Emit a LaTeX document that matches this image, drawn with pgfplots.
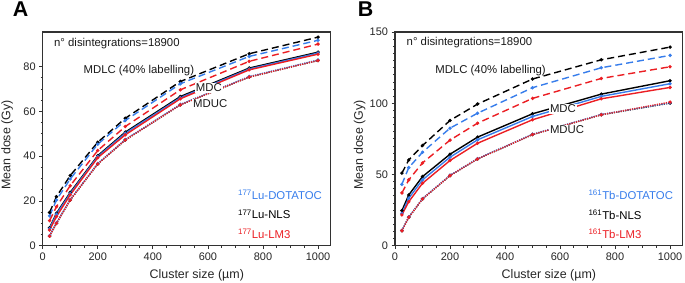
\documentclass[border=0pt]{standalone}
\usepackage{fontspec}
\setmainfont{Liberation Sans}
\usepackage{pgfplots}
\pgfplotsset{compat=1.18}
\definecolor{cblue}{RGB}{55,125,235}
\definecolor{cred}{RGB}{235,30,35}
\definecolor{cblack}{RGB}{0,0,0}
\definecolor{frame}{RGB}{50,50,50}
\tikzset{
  dsh/.style={dash pattern=on 7bp off 4bp},
  dtt/.style={dash pattern=on 1.2bp off 1.1bp},
  lab/.style={font=\fontsize{11.4}{13}\selectfont, text=black!90, inner sep=0.8bp},
  plab/.style={anchor=west, inner sep=0pt, font=\fontsize{21.5}{22}\selectfont\bfseries},
}
\pgfplotsset{
  panel/.style={
    scale only axis, width=288bp, height=213.7bp,
    xmin=0, xmax=1046, ymin=0,
    xtick={0,200,...,1000}, minor x tick num=3,
    xtick pos=lower, ytick pos=left, tick align=outside,
    major tick length=3.5bp, minor tick length=2bp,
    axis line style={frame, line width=1.1bp},
    every tick/.style={frame, line width=0.7bp},
    /pgf/number format/assume math mode=true,
    /pgf/number format/1000 sep={},
    ticklabel style={font=\fontsize{11}{13}\selectfont, text=black!85},
    xlabel={Cluster size (µm)}, ylabel={Mean dose (Gy)},
    label style={font=\fontsize{12.5}{14}\selectfont, text=black!85},
    xlabel style={at={(axis description cs:0.535,0)}, anchor=center, yshift=-29.3bp},
    ylabel style={at={(axis description cs:-0.123,0.472)}, anchor=center},
    clip=false,
    every axis plot/.append style={line width=1.4bp, mark size=0.9bp, mark options={solid}},
  },
}
\begin{document}
\begin{tikzpicture}
\useasboundingbox (0,0) rectangle (685bp,283bp);
\node[plab] at (12.7bp,273.5bp) {A};
\node[plab] at (357.7bp,273.5bp) {B};
% ---------------- Panel A
\begin{axis}[panel, at={(42.7bp,37.3bp)}, anchor=south west,
  ymax=95.4, ytick={0,20,...,80}, minor y tick num=3]
% MDLC dashed
\addplot[cblack, dsh, mark=*] coordinates {(25,14.8)(50,21.9)(100,31.3)(200,46.2)(300,56.9)(500,73.3)(750,85.7)(1000,93.1)};
\addplot[cblue, dsh, mark=*] coordinates {(25,13.3)(50,20.4)(100,29.8)(200,45.3)(300,55.9)(500,72.3)(750,84.5)(1000,91.7)};
\addplot[cred, dsh, mark=*] coordinates {(25,11.2)(50,17.4)(100,26.8)(200,42.5)(300,53.2)(500,69.6)(750,82.3)(1000,90.0)};
% MDC solid
\addplot[cblack, mark=*] coordinates {(25,8.0)(50,14.5)(100,23.8)(200,40.2)(300,50.7)(500,66.6)(750,79.3)(1000,86.4)};
\addplot[cblue, mark=*] coordinates {(25,7.6)(50,14.0)(100,23.3)(200,39.8)(300,50.2)(500,66.1)(750,78.9)(1000,86.0)};
\addplot[cred, mark=*] coordinates {(25,7.0)(50,13.0)(100,22.7)(200,39.3)(300,49.5)(500,65.6)(750,78.5)(1000,85.5)};
% MDUC dotted
\addplot[cblack, dtt, mark=*] coordinates {(25,4.3)(50,10.0)(100,20.4)(200,36.5)(300,47.2)(500,62.9)(750,75.3)(1000,82.7)};
\addplot[cblue, dtt, mark=*] coordinates {(25,4.5)(50,10.2)(100,20.6)(200,36.7)(300,47.4)(500,63.1)(750,75.5)(1000,82.9)};
\addplot[cred, dtt, mark=*] coordinates {(25,4.3)(50,10.0)(100,20.4)(200,36.5)(300,47.2)(500,62.9)(750,75.3)(1000,82.7)};
\node[lab, anchor=west] at (axis cs:38,90.4) {n° disintegrations=18900};
\node[lab, anchor=west] at (axis cs:145,78) {MDLC (40\% labelling)};
\node[lab, anchor=west, fill=white] at (axis cs:553,70.5) {MDC};
\node[lab, anchor=west, fill=white] at (axis cs:543,63.3) {MDUC};
\node[lab, anchor=west, text=cblue] at (axis cs:706,22.6) {\textsuperscript{177}Lu-DOTATOC};
\node[lab, anchor=west, text=black] at (axis cs:706,14.0) {\textsuperscript{177}Lu-NLS};
\node[lab, anchor=west, text=cred] at (axis cs:706,5.5) {\textsuperscript{177}Lu-LM3};
\end{axis}
% ---------------- Panel B
\begin{axis}[panel, at={(395bp,37.3bp)}, anchor=south west, width=287.7bp,
  ymax=150, ytick={0,50,100,150}, minor y tick num=9]
\addplot[cblack, dsh, mark=*] coordinates {(25,50.9)(50,60.2)(100,70.3)(200,87.9)(300,99.4)(500,117.0)(750,130.5)(1000,139.4)};
\addplot[cblue, dsh, mark=*] coordinates {(25,43.1)(50,54.8)(100,65.6)(200,82.5)(300,93.0)(500,110.9)(750,124.9)(1000,133.6)};
\addplot[cred, dsh, mark=*] coordinates {(25,37.0)(50,46.2)(100,58.1)(200,74.1)(300,86.0)(500,103.4)(750,117.4)(1000,125.6)};
\addplot[cblack, mark=*] coordinates {(25,24.6)(50,35.6)(100,48.5)(200,64.2)(300,76.2)(500,92.6)(750,106.4)(1000,115.8)};
\addplot[cblue, mark=*] coordinates {(25,22.7)(50,33.3)(100,46.2)(200,62.1)(300,74.3)(500,90.7)(750,104.8)(1000,113.7)};
\addplot[cred, mark=*] coordinates {(25,21.6)(50,30.9)(100,43.8)(200,59.8)(300,71.9)(500,88.4)(750,103.1)(1000,111.1)};
\addplot[cblack, dtt, mark=*] coordinates {(25,10.5)(50,19.9)(100,32.8)(200,49.2)(300,60.9)(500,78.0)(750,91.9)(1000,100.1)};
\addplot[cblue, dtt, mark=*] coordinates {(25,10.7)(50,20.1)(100,33.0)(200,49.4)(300,61.1)(500,78.2)(750,92.1)(1000,100.3)};
\addplot[cred, dtt, mark=*] coordinates {(25,10.5)(50,19.9)(100,32.8)(200,49.2)(300,60.9)(500,78.0)(750,91.9)(1000,100.8)};
\node[lab, anchor=west] at (axis cs:39,142.3) {n° disintegrations=18900};
\node[lab, anchor=west] at (axis cs:143,122.8) {MDLC (40\% labelling)};
\node[lab, anchor=west, fill=white] at (axis cs:560,95.9) {MDC};
\node[lab, anchor=west, fill=white] at (axis cs:560,81.3) {MDUC};
\node[lab, anchor=west, text=cblue] at (axis cs:700,35.6) {\textsuperscript{161}Tb-DOTATOC};
\node[lab, anchor=west, text=black] at (axis cs:700,22.0) {\textsuperscript{161}Tb-NLS};
\node[lab, anchor=west, text=cred] at (axis cs:700,8.7) {\textsuperscript{161}Tb-LM3};
\end{axis}
\end{tikzpicture}
\end{document}
